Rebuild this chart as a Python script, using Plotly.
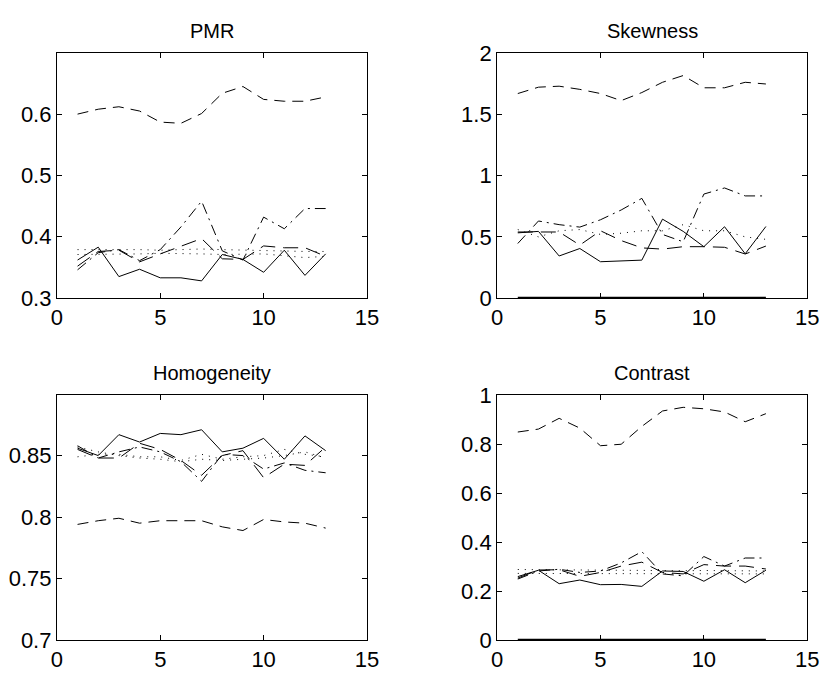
import plotly.graph_objects as go

x = list(range(1, 14))

titles = ["PMR", "Skewness", "Homogeneity", "Contrast"]

# ---- PMR ----
pmr_solid = [0.362, 0.383, 0.335, 0.347, 0.333, 0.333, 0.328, 0.371, 0.363, 0.342, 0.378, 0.337, 0.372]
pmr_dash = [0.600, 0.608, 0.612, 0.605, 0.587, 0.585, 0.601, 0.634, 0.645, 0.624, 0.621, 0.621, 0.628]
pmr_dashdot = [0.346, 0.374, 0.379, 0.361, 0.379, 0.416, 0.458, 0.377, 0.362, 0.432, 0.413, 0.446, 0.446]
pmr_longdash = [0.352, 0.376, 0.378, 0.359, 0.372, 0.384, 0.397, 0.364, 0.363, 0.385, 0.382, 0.382, 0.368]
pmr_dot1 = [0.379, 0.379, 0.380, 0.379, 0.378, 0.379, 0.380, 0.379, 0.378, 0.377, 0.377, 0.376, 0.376]
pmr_dot2 = [0.371, 0.371, 0.372, 0.372, 0.373, 0.373, 0.372, 0.371, 0.371, 0.372, 0.369, 0.366, 0.368]
pmr_zero = [0] * 13

# ---- Skewness ----
skw_solid = [0.533, 0.545, 0.344, 0.405, 0.297, 0.302, 0.310, 0.645, 0.545, 0.420, 0.583, 0.362, 0.585]
skw_dash = [1.672, 1.724, 1.732, 1.706, 1.672, 1.614, 1.680, 1.764, 1.819, 1.719, 1.719, 1.764, 1.750]
skw_dashdot = [0.446, 0.630, 0.600, 0.580, 0.640, 0.720, 0.815, 0.520, 0.460, 0.850, 0.900, 0.835, 0.835]
skw_longdash = [0.540, 0.540, 0.540, 0.433, 0.550, 0.470, 0.410, 0.400, 0.420, 0.420, 0.415, 0.360, 0.425]
skw_dot1 = [0.560, 0.500, 0.550, 0.560, 0.520, 0.530, 0.550, 0.550, 0.600, 0.550, 0.550, 0.500, 0.480]
skw_zero = [0] * 13

# ---- Homogeneity ----
hom_solid = [0.856, 0.850, 0.867, 0.861, 0.868, 0.867, 0.871, 0.853, 0.856, 0.864, 0.847, 0.866, 0.854]
hom_dash = [0.794, 0.797, 0.799, 0.795, 0.797, 0.797, 0.797, 0.792, 0.789, 0.798, 0.796, 0.795, 0.791]
hom_dashdot = [0.858, 0.848, 0.853, 0.857, 0.853, 0.845, 0.829, 0.851, 0.850, 0.839, 0.844, 0.838, 0.836]
hom_longdash = [0.855, 0.848, 0.848, 0.860, 0.855, 0.846, 0.834, 0.850, 0.854, 0.832, 0.843, 0.842, 0.857]
hom_dot1 = [0.849, 0.851, 0.851, 0.849, 0.849, 0.846, 0.851, 0.847, 0.849, 0.850, 0.855, 0.851, 0.849]
hom_dot2 = [0.857, 0.853, 0.850, 0.848, 0.847, 0.845, 0.847, 0.846, 0.847, 0.848, 0.850, 0.853, 0.848]
hom_zero = [0] * 13

# ---- Contrast ----
con_solid = [0.259, 0.285, 0.230, 0.245, 0.226, 0.227, 0.219, 0.282, 0.280, 0.240, 0.287, 0.234, 0.285]
con_dash = [0.850, 0.862, 0.906, 0.866, 0.794, 0.800, 0.873, 0.936, 0.951, 0.945, 0.932, 0.892, 0.925]
con_dashdot = [0.249, 0.282, 0.289, 0.276, 0.282, 0.315, 0.361, 0.270, 0.262, 0.341, 0.302, 0.335, 0.335]
con_longdash = [0.253, 0.286, 0.287, 0.260, 0.276, 0.302, 0.318, 0.276, 0.270, 0.308, 0.302, 0.302, 0.290]
con_dot1 = [0.288, 0.287, 0.288, 0.287, 0.286, 0.286, 0.285, 0.284, 0.283, 0.284, 0.283, 0.282, 0.282]
con_dot2 = [0.272, 0.272, 0.273, 0.272, 0.273, 0.273, 0.272, 0.271, 0.272, 0.272, 0.271, 0.270, 0.270]
con_zero = [0] * 13

panels = [
    [pmr_solid, pmr_dash, pmr_dashdot, pmr_longdash, pmr_dot1, pmr_dot2, pmr_zero],
    [skw_solid, skw_dash, skw_dashdot, skw_longdash, skw_dot1, None, skw_zero],
    [hom_solid, hom_dash, hom_dashdot, hom_longdash, hom_dot1, hom_dot2, hom_zero],
    [con_solid, con_dash, con_dashdot, con_longdash, con_dot1, con_dot2, con_zero],
]

y_ranges = [[0.3, 0.699], [0, 2], [0.7, 0.899], [0, 1]]
y_ticks = [[0.3, 0.4, 0.5, 0.6], [0, 0.5, 1, 1.5, 2], [0.7, 0.75, 0.8, 0.85], [0, 0.2, 0.4, 0.6, 0.8, 1]]
x_ticks = [0, 5, 10, 15]

styles = [
    dict(dash="solid", width=1),
    dict(dash="11px,7px", width=1),
    dict(dash="11px,5px,2px,5px", width=1),
    dict(dash="15px,8px", width=1),
    dict(dash="1px,6px", width=1),
    dict(dash="1px,6px", width=1),
    dict(dash="solid", width=2.5),
]

W, H = 830, 678
x_doms = [[52 / W, 369 / W], [502 / W, 819 / W]]
y_doms = [[1 - 297 / H, 1 - 43 / H], [1 - 652 / H, 1 - 398 / H]]

FONT = "Liberation Sans, Arial, sans-serif"

fig = go.Figure()
layout = dict(
    width=W, height=H, margin=dict(l=0, r=0, t=0, b=0),
    paper_bgcolor="white", plot_bgcolor="white", showlegend=False,
    font=dict(family=FONT, size=20, color="black"),
    annotations=[],
)

for i, series in enumerate(panels):
    r, c = divmod(i, 2)
    suffix = "" if i == 0 else str(i + 1)
    for s, st in zip(series, styles):
        if s is None:
            continue
        fig.add_trace(go.Scatter(
            x=x, y=s, mode="lines",
            line=dict(color="black", **st),
            xaxis="x" + suffix, yaxis="y" + suffix, hoverinfo="skip",
        ))
    axcommon = dict(
        showline=True, linecolor="black", linewidth=1, mirror="allticks",
        ticks="inside", ticklen=5, tickcolor="black", showgrid=False,
        zeroline=False, tickfont=dict(family=FONT, size=22, color="black"),
    )
    layout["xaxis" + suffix] = dict(
        domain=x_doms[c], range=[0, 15], tickvals=x_ticks,
        ticktext=[str(t) for t in x_ticks], anchor="y" + suffix, **axcommon,
    )
    layout["yaxis" + suffix] = dict(
        domain=y_doms[r], range=y_ranges[i], tickvals=y_ticks[i],
        ticktext=[("%g" % t) for t in y_ticks[i]], anchor="x" + suffix, **axcommon,
    )
    layout["annotations"].append(dict(
        text=titles[i], xref="paper", yref="paper",
        x=(x_doms[c][0] + x_doms[c][1]) / 2, y=y_doms[r][1],
        xanchor="center", yanchor="bottom", yshift=9, showarrow=False,
        font=dict(family=FONT, size=20, color="black"),
    ))

fig.update_layout(**layout)
fig.write_html(
    "out.html",
    config={"displayModeBar": False},
    post_script="document.body.style.margin='0';document.body.style.overflow='hidden';",
)
